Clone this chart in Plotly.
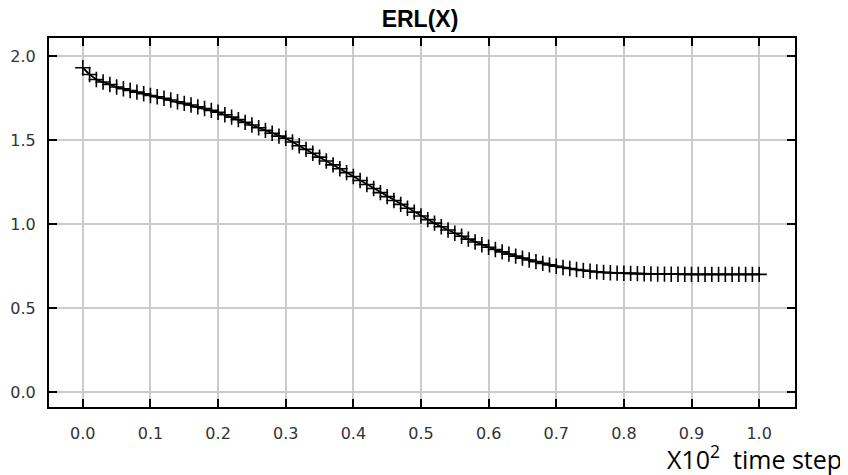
import plotly.graph_objects as go

# time step (x10^2)
x_vals = [round(i * 0.01, 2) for i in range(101)]

erl_vals = [
    1.930, 1.890, 1.860, 1.845, 1.830, 1.815, 1.805, 1.795, 1.785, 1.775,
    1.765, 1.757, 1.748, 1.738, 1.728, 1.718, 1.708, 1.697, 1.687, 1.676,
    1.665, 1.650, 1.636, 1.621, 1.605, 1.589, 1.573, 1.557, 1.540, 1.523,
    1.510, 1.488, 1.466, 1.444, 1.421, 1.398, 1.375, 1.352, 1.329, 1.306,
    1.283, 1.259, 1.235, 1.211, 1.187, 1.163, 1.140, 1.117, 1.094, 1.071,
    1.048, 1.026, 1.005, 0.984, 0.964, 0.945, 0.927, 0.910, 0.893, 0.877,
    0.862, 0.848, 0.834, 0.821, 0.809, 0.797, 0.786, 0.776, 0.766, 0.757,
    0.749, 0.741, 0.735, 0.729, 0.724, 0.719, 0.715, 0.712, 0.710, 0.708,
    0.707, 0.706, 0.705, 0.704, 0.703, 0.702, 0.702, 0.701, 0.701, 0.700,
    0.700, 0.700, 0.700, 0.700, 0.700, 0.700, 0.700, 0.700, 0.700, 0.700,
    0.700,
]

x_ticks = [0.0, 0.1, 0.2, 0.3, 0.4, 0.5, 0.6, 0.7, 0.8, 0.9, 1.0]
x_tick_labels = ["0.0", "0.1", "0.2", "0.3", "0.4", "0.5", "0.6", "0.7", "0.8", "0.9", "1.0"]
y_ticks = [0.0, 0.5, 1.0, 1.5, 2.0]
y_tick_labels = ["0.0", "0.5", "1.0", "1.5", "2.0"]

title_text = "ERL(X)"
x_unit_text = "X10<sup>2</sup>  time step"

# page has an 8px body margin, so the figure is drawn 8px in and 8px down
W, H = 840, 467
L, T, R, B = 41, 30, 53, 68
plot_w = W - L - R
plot_h = H - T - B

fig = go.Figure()
fig.add_trace(go.Scatter(
    x=x_vals, y=erl_vals, mode="lines+markers",
    line=dict(color="black", width=1.8),
    marker=dict(symbol="cross-thin", size=11, line=dict(color="black", width=1.6), color="black"),
    showlegend=False,
))

tick_font = dict(family="DejaVu Sans", size=16, color="#333333")

fig.update_layout(
    width=W, height=H,
    margin=dict(l=L, r=R, t=T, b=B, autoexpand=False),
    paper_bgcolor="white", plot_bgcolor="white",
    title=dict(text=f"<b>{title_text}</b>", x=412 / W, xanchor="center",
               y=1, yanchor="top", pad=dict(t=3, b=0, l=0, r=0), automargin=False,
               font=dict(family="Liberation Sans", size=23, color="black")),
    xaxis=dict(
        range=[-0.05, 1.053], tickvals=x_ticks, ticktext=x_tick_labels,
        showgrid=True, gridcolor="#cccccc", gridwidth=1.5,
        showline=True, linecolor="black", linewidth=2, mirror="ticks",
        ticks="inside", ticklen=8, tickwidth=1.5, tickcolor="black",
        tickfont=tick_font, ticklabelstandoff=11, zeroline=False, automargin=False,
    ),
    yaxis=dict(
        range=[-0.089, 2.107], tickvals=y_ticks, ticktext=y_tick_labels,
        showgrid=True, gridcolor="#cccccc", gridwidth=1.5,
        showline=True, linecolor="black", linewidth=2, mirror="ticks",
        ticks="inside", ticklen=8, tickwidth=1.5, tickcolor="black",
        tickfont=tick_font, ticklabelstandoff=8, zeroline=False, automargin=False,
    ),
    annotations=[dict(
        text=x_unit_text, xref="paper", yref="paper",
        x=(836 - L) / plot_w, y=(H - B - 449) / plot_h, xanchor="right", yanchor="middle",
        showarrow=False, font=dict(family="Open Sans", size=25, color="black"),
    )],
)

fig.write_html("out.html")
